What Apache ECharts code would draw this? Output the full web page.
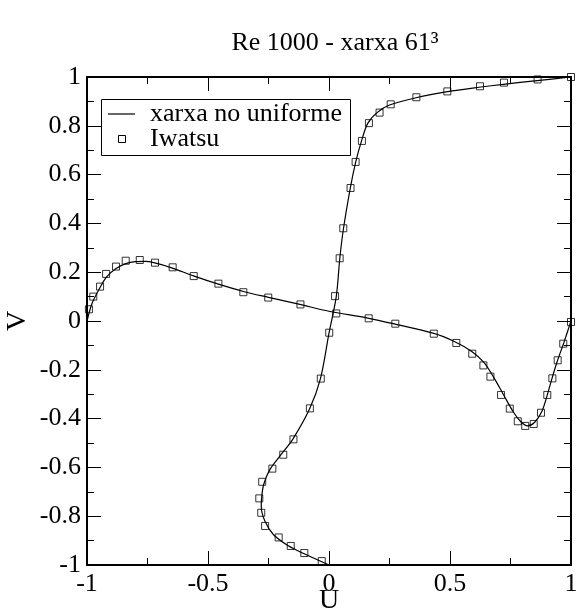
<!DOCTYPE html>
<html><head><meta charset="utf-8">
<script src="https://cdn.jsdelivr.net/npm/echarts@6/dist/echarts.min.js"></script>
<style>html,body{margin:0;padding:0;background:#fff}#c{width:576px;height:615px}</style>
</head><body><div id="c"></div>
<script>
// Reference data (Iwatsu) - vertical centreline profile u(y): plotted as (U, V)
const iwVertU = [-0.03, -0.102, -0.158, -0.208, -0.264, -0.280, -0.288, -0.276, -0.234, -0.189, -0.147, -0.079, -0.034, 0.001, 0.025, 0.044, 0.059, 0.089, 0.110, 0.136, 0.165, 0.209, 0.255, 0.361, 0.489, 0.624, 0.723, 0.862, 1.0];
const iwVertV = [-0.984, -0.951, -0.922, -0.887, -0.840, -0.786, -0.727, -0.659, -0.605, -0.548, -0.485, -0.358, -0.236, -0.048, 0.102, 0.257, 0.380, 0.545, 0.652, 0.738, 0.811, 0.854, 0.888, 0.917, 0.941, 0.962, 0.977, 0.990, 1.0];
// Reference data (Iwatsu) - horizontal centreline profile v(x)
const iwHorU = [-0.992, -0.974, -0.946, -0.921, -0.880, -0.840, -0.782, -0.719, -0.646, -0.559, -0.457, -0.354, -0.251, -0.118, 0.030, 0.164, 0.274, 0.433, 0.526, 0.592, 0.638, 0.667, 0.711, 0.747, 0.780, 0.811, 0.846, 0.876, 0.902, 0.923, 0.945, 0.968, 1.0];
const iwHorV = [0.048, 0.100, 0.141, 0.193, 0.223, 0.247, 0.250, 0.239, 0.220, 0.184, 0.153, 0.118, 0.096, 0.068, 0.031, 0.011, -0.011, -0.052, -0.090, -0.134, -0.182, -0.228, -0.303, -0.359, -0.411, -0.430, -0.422, -0.376, -0.303, -0.235, -0.161, -0.093, -0.004];
// Computed (xarxa no uniforme) - vertical profile
const nuVertU = [0, -0.1, -0.17, -0.23, -0.265, -0.28, -0.278, -0.27, -0.245, -0.2, -0.15, -0.08, -0.035, 0, 0.03, 0.045, 0.06, 0.088, 0.11, 0.135, 0.16, 0.2, 0.25, 0.36, 0.49, 0.62, 0.72, 0.86, 1];
const nuVertV = [-1, -0.955, -0.92, -0.875, -0.82, -0.76, -0.72, -0.67, -0.61, -0.55, -0.485, -0.36, -0.235, -0.05, 0.1, 0.26, 0.38, 0.545, 0.65, 0.74, 0.81, 0.855, 0.885, 0.915, 0.94, 0.958, 0.97, 0.985, 1];
// Computed (xarxa no uniforme) - horizontal profile
const nuHorU = [-1, -0.98, -0.95, -0.92, -0.88, -0.84, -0.80, -0.76, -0.72, -0.65, -0.56, -0.46, -0.35, -0.25, -0.12, 0, 0.16, 0.27, 0.43, 0.52, 0.59, 0.64, 0.68, 0.72, 0.76, 0.79, 0.82, 0.85, 0.88, 0.90, 0.92, 0.945, 0.97, 1.0];
const nuHorV = [0, 0.07, 0.13, 0.18, 0.215, 0.235, 0.243, 0.244, 0.238, 0.218, 0.185, 0.152, 0.12, 0.097, 0.068, 0.04, 0.012, -0.012, -0.05, -0.085, -0.125, -0.17, -0.23, -0.30, -0.37, -0.41, -0.43, -0.415, -0.37, -0.31, -0.24, -0.16, -0.09, 0];
const xTickLabels = ['-1', '-0.5', '0', '0.5', '1'];
const yTickLabels = ['-1', '-0.8', '-0.6', '-0.4', '-0.2', '0', '0.2', '0.4', '0.6', '0.8', '1'];
const legendNames = ['xarxa no uniforme', 'Iwatsu'];

const zip = (a, b) => a.map((v, i) => [v, b[i]]);
const FONT = 'Liberation Serif';
const FS = 26;
const chart = echarts.init(document.getElementById('c'), null, {renderer: 'canvas'});

function fmt(v) { return String(Math.round(v * 10) / 10); }
function axisBase(isX, pos, showLabel) {
  return {
    type: 'value', position: pos, min: -1, max: 1, interval: isX ? 0.5 : 0.2,
    axisLine: {show: true, onZero: false, lineStyle: {color: '#000', width: 2}},
    axisTick: {show: true, inside: true, length: 14, lineStyle: {color: '#000', width: 1}},
    minorTick: {show: true, splitNumber: 2, length: 7, lineStyle: {color: '#000', width: 1}},
    splitLine: {show: false}, minorSplitLine: {show: false},
    axisLabel: {show: showLabel, margin: 6, color: '#000', fontFamily: FONT, fontSize: FS,
      showMinLabel: true, showMaxLabel: true, hideOverlap: false,
      formatter: v => {
        const arr = isX ? xTickLabels : yTickLabels;
        const s = fmt(v);
        return arr.indexOf(s) >= 0 ? s : '';
      }}
  };
}

const option = {
  animation: false,
  backgroundColor: '#fff',
  title: {text: 'Re 1000 - xarxa 61³', left: 330, top: 25, textAlign: 'center',
    textStyle: {fontFamily: FONT, fontSize: 26, fontWeight: 'normal', color: '#000'}},
  grid: {left: 87, top: 77, width: 484, height: 488, containLabel: false, outerBoundsMode: 'none'},
  xAxis: [
    Object.assign(axisBase(true, 'bottom', true), {name: 'U', nameLocation: 'middle', nameGap: 36,
      nameMoveOverlap: false,
      nameTextStyle: {fontFamily: FONT, fontSize: 28, color: '#000', verticalAlign: 'middle'}}),
    axisBase(true, 'top', false)
  ],
  yAxis: [
    Object.assign(axisBase(false, 'left', true), {name: 'V', nameLocation: 'middle', nameGap: 69,
      nameMoveOverlap: false,
      nameTextStyle: {fontFamily: FONT, fontSize: 28, color: '#000', verticalAlign: 'middle'}}),
    axisBase(false, 'right', false)
  ],
  graphic: [
    {type: 'rect', shape: {x: 101.5, y: 99.5, width: 249, height: 56}, z: 10,
      style: {fill: '#fff', stroke: '#000', lineWidth: 1}},
    {type: 'line', shape: {x1: 108, y1: 114, x2: 135, y2: 114}, z: 11,
      style: {stroke: '#000', lineWidth: 1.2}},
    {type: 'rect', shape: {x: 118.5, y: 135.5, width: 7, height: 7}, z: 11,
      style: {fill: 'none', stroke: '#000', lineWidth: 1}},
    {type: 'text', x: 150, y: 114, z: 11,
      style: {text: legendNames[0], font: FS + 'px "' + FONT + '"', fill: '#000', textVerticalAlign: 'middle', verticalAlign: 'middle'}},
    {type: 'text', x: 150, y: 139, z: 11,
      style: {text: legendNames[1], font: FS + 'px "' + FONT + '"', fill: '#000', textVerticalAlign: 'middle', verticalAlign: 'middle'}}
  ],
  series: [
    {name: legendNames[0], type: 'line', data: zip(nuVertU, nuVertV), smooth: 0.3,
      symbol: 'none', showSymbol: false, lineStyle: {color: '#000', width: 1.2}, itemStyle: {color: '#000'}},
    {name: legendNames[0], type: 'line', data: zip(nuHorU, nuHorV), smooth: 0.3,
      symbol: 'none', showSymbol: false, lineStyle: {color: '#000', width: 1.2}, itemStyle: {color: '#000'}},
    {name: legendNames[1], type: 'scatter', data: zip(iwVertU, iwVertV).concat(zip(iwHorU, iwHorV)),
      symbol: 'rect', symbolSize: 7,
      itemStyle: {color: 'rgba(0,0,0,0)', borderColor: '#000', borderWidth: 1}}
  ]
};
chart.setOption(option);
</script></body></html>
